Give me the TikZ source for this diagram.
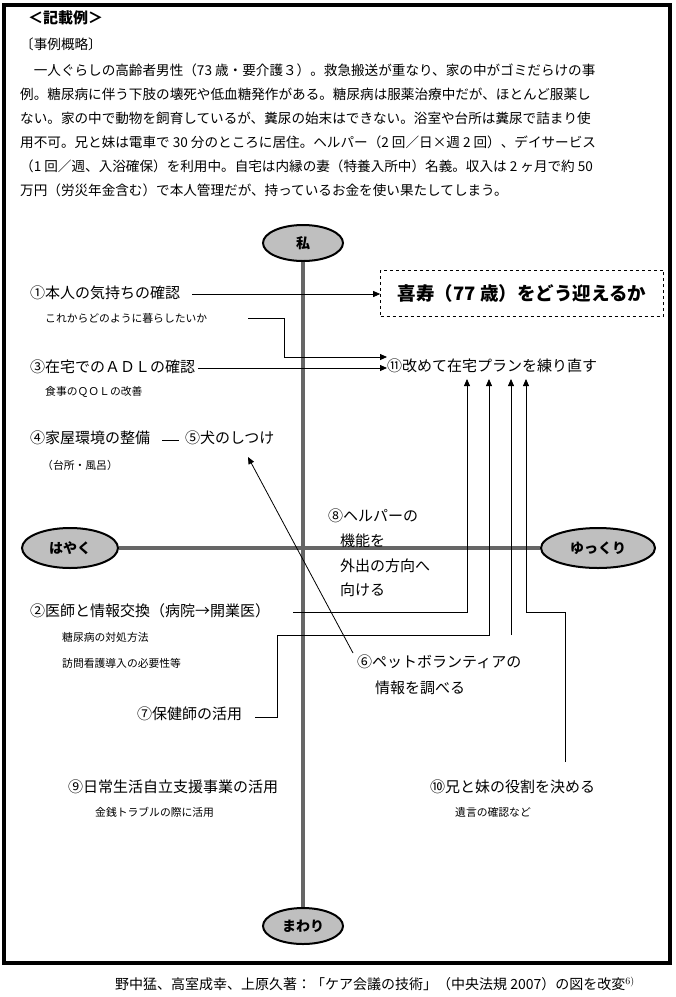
\documentclass[tikz,border=0pt]{standalone}
\usepackage{fontspec}
\setmainfont{Noto Sans CJK JP}
\usetikzlibrary{arrows.meta,shapes.geometric}
\begin{document}
\begin{tikzpicture}[x=1pt,y=-1pt,
  txt/.style={anchor=west,inner sep=0pt,font=\fontsize{13.6}{15}\selectfont},
  item/.style={anchor=west,inner sep=0pt,font=\fontsize{15}{17}\selectfont},
  sub/.style={anchor=west,inner sep=0pt,font=\fontsize{10.8}{12}\selectfont},
  axis/.style={draw=gray!80!black,line width=3.5pt},
  oval/.style={draw=black,line width=2pt,fill=gray!50,ellipse,inner sep=0pt,font=\bfseries\fontsize{14}{16}\selectfont},
  con/.style={draw=black,line width=0.8pt},
  arr/.style={con,-{Triangle[length=7pt,width=6pt]}}]
\useasboundingbox (0,0) rectangle (676,997);
\draw[line width=3.5pt] (4,5) rectangle (670,963);
\node[item,font=\bfseries\fontsize{15}{17}\selectfont] (h1) at (28,18) {＜記載例＞};
\node[txt] (h2) at (20,44) {〔事例概略〕};
\node[txt] (p1) at (20,70) {\hspace{1em}一人ぐらしの高齢者男性（73 歳・要介護３）。救急搬送が重なり、家の中がゴミだらけの事};
\node[txt] (p2) at (20,94) {例。糖尿病に伴う下肢の壊死や低血糖発作がある。糖尿病は服薬治療中だが、ほとんど服薬し};
\node[txt] (p3) at (20,118) {ない。家の中で動物を飼育しているが、糞尿の始末はできない。浴室や台所は糞尿で詰まり使};
\node[txt] (p4) at (20,142) {用不可。兄と妹は電車で 30 分のところに居住。ヘルパー（2 回／日×週 2 回）、デイサービス};
\node[txt] (p5) at (20,166) {（1 回／週、入浴確保）を利用中。自宅は内縁の妻（特養入所中）名義。収入は 2 ヶ月で約 50};
\node[txt] (p6) at (20,190) {万円（労災年金含む）で本人管理だが、持っているお金を使い果たしてしまう。};
% axes
\node[oval,minimum width=80pt,minimum height=36pt] (top) at (303,243) {私};
\node[oval,minimum width=80pt,minimum height=36pt] (bot) at (303,926) {まわり};
\node[oval,minimum width=96pt,minimum height=40pt] (left) at (70,548) {はやく};
\node[oval,minimum width=114pt,minimum height=40pt] (right) at (598,548) {ゆっくり};
\draw[axis] (top.south) -- (bot.north);
\draw[axis] (left.east) -- (right.west);
% goal box
\node[draw,dashed,line width=0.6pt,minimum width=283pt,minimum height=46pt,inner sep=0pt,font=\bfseries\fontsize{18.5}{20}\selectfont] (goal) at (522,293) {喜寿（77 歳）をどう迎えるか};
\node[item] (n1) at (30,293) {①本人の気持ちの確認};
\node[sub] (n1s) at (45,318) {これからどのように暮らしたいか};
\node[item] (n11) at (387,366) {⑪改めて在宅プランを練り直す};
\node[item] (n3) at (30,367) {③在宅でのＡＤＬの確認};
\node[sub] (n3s) at (45,392) {食事のＱＯＬの改善};
\node[item] (n4) at (30,438) {④家屋環境の整備};
\node[item] (n5) at (185,438) {⑤犬のしつけ};
\node[sub] (n4s) at (42,465) {（台所・風呂）};
\node[item] (n8a) at (328,516) {⑧ヘルパーの};
\node[item] (n8b) at (340,541) {機能を};
\node[item] (n8c) at (340,566) {外出の方向へ};
\node[item] (n8d) at (340,590) {向ける};
\node[item] (n2) at (30,611) {②医師と情報交換（病院→開業医）};
\node[sub] (n2s) at (62,637) {糖尿病の対処方法};
\node[sub] (n2t) at (62,663) {訪問看護導入の必要性等};
\node[item] (n6) at (357,662) {⑥ペットボランティアの};
\node[item] (n6b) at (375,688) {情報を調べる};
\node[item] (n7) at (137,714) {⑦保健師の活用};
\node[item] (n9) at (68,787) {⑨日常生活自立支援事業の活用};
\node[sub] (n9s) at (95,812) {金銭トラブルの際に活用};
\node[item] (n10) at (430,787) {⑩兄と妹の役割を決める};
\node[sub] (n10s) at (455,812) {遺言の確認など};
\node[anchor=center,inner sep=0pt,font=\fontsize{14}{16}\selectfont] (foot) at (375,984) {野中猛、高室成幸、上原久著：「ケア会議の技術」（中央法規 2007）の図を改変$^{6)}$};
% connectors
\coordinate (e1) at (192,294);
\draw[arr] (e1) -- (goal.west |- e1);
\coordinate (s1) at (248,318);
\draw[arr] (s1) -- (284,318) -- (284,357) -- (n11.west |- 0,357);
\coordinate (e3) at (198,368);
\draw[arr] (e3) -- (n11.west |- e3);
\coordinate (d1) at (162,440);
\draw[con] (d1) -- ++(17,0);
\coordinate (e6) at (353,653);
\draw[arr] (e6) -- (248,457);
\coordinate (e2) at (293,612);
\draw[arr] (e2) -- (467,612) -- (467,379);
\coordinate (e7) at (255,717);
\draw[arr] (e7) -- (277,717) -- (277,635) -- (489,635) -- (489,379);
\coordinate (e9) at (511,635);
\draw[arr] (e9) -- (511,379);
\coordinate (e10) at (565,762);
\draw[arr] (e10) -- (565,612) -- (526,612) -- (526,379);
\end{tikzpicture}
\end{document}
